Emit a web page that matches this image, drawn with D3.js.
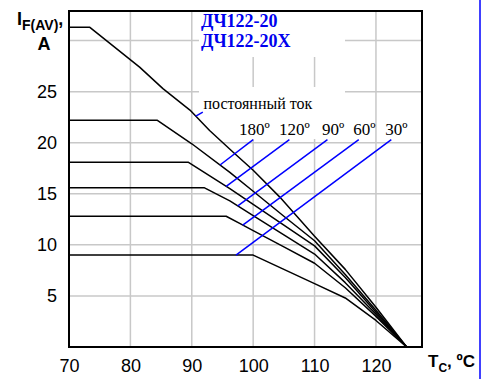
<!DOCTYPE html>
<html>
<head>
<meta charset="utf-8">
<script src="https://cdn.jsdelivr.net/npm/d3@7"></script>
<style>
  html, body { margin: 0; padding: 0; background: #fff; }
  svg { display: block; }
</style>
</head>
<body>
<svg id="chart" width="490" height="379"></svg>
<script>
// Case temperature ticks (°C) and average forward current ticks (A)
const xTicks = [70, 80, 90, 100, 110, 120];
const yTicks = [5, 10, 15, 20, 25];
const yGrid = [5, 10, 15, 20, 25, 30];

// Derating curves: case temperature Tc (°C) -> I_F(AV) (A)
const tcDC  = [70, 73.4, 81.5, 85.3, 89.7, 92.9, 96.7, 100, 104.3, 110, 115, 120, 125];
const ifDC  = [31.3, 31.3, 27.4, 25.3, 23.2, 21.2, 19.1, 17.3, 14.7, 10.85, 7.6, 3.9, 0];
const tc180 = [70, 84.4, 90, 96.2, 100, 105, 110, 115, 120, 125];
const if180 = [22.2, 22.2, 19.9, 17.1, 15.25, 12.8, 10.4, 7.1, 3.6, 0];
const tc120 = [70, 89.4, 96.2, 100, 105, 110, 115, 120, 125];
const if120 = [18.1, 18.1, 15.5, 13.96, 11.93, 9.9, 6.8, 3.4, 0];
const tc90  = [70, 92, 96.2, 100, 105, 110, 115, 120, 125];
const if90  = [15.6, 15.6, 14.3, 12.87, 10.98, 9.1, 6.3, 3.2, 0];
const tc60  = [70, 95.6, 97.8, 100, 105, 110, 115, 120, 125];
const if60  = [12.8, 12.8, 12.1, 11.4, 9.8, 8.2, 5.8, 3.0, 0];
const tc30  = [70, 100, 105, 110, 115, 120, 125];
const if30  = [9.0, 9.0, 7.6, 6.2, 4.8, 2.6, 0];

const seriesLabels = ["постоянный ток", "180º", "120º", "90º", "60º", "30º"];
// Where each leader touches its curve (Tc) and where it ends near the label (Tc, A)
const leaderTc    = [90.65, 94.6, 95.6, 97.5, 98.3, 97.2];
const leaderTopTc = [91.8, 100.0, 105.9, 112.1, 117.2, 122.5];
const leaderTopIf = [23.0, 20.3, 20.3, 20.3, 20.3, 20.3];

const titleLines = ["ДЧ122-20", "ДЧ122-20X"];

const svg = d3.select("#chart");
const x = d3.scaleLinear().domain([70, 127.5]).range([69, 422]);
const y = d3.scaleLinear().domain([0, 32.9]).range([347, 11]);

const series = [
  [tcDC, ifDC], [tc180, if180], [tc120, if120],
  [tc90, if90], [tc60, if60], [tc30, if30]
].map(([t, i]) => t.map((v, k) => [v, i[k]]));

function valueAt(pts, t) {
  for (let k = 1; k < pts.length; k++) {
    if (t <= pts[k][0]) {
      const [t0, v0] = pts[k - 1], [t1, v1] = pts[k];
      return v0 + (v1 - v0) * (t - t0) / (t1 - t0);
    }
  }
  return pts[pts.length - 1][1];
}

const [x0, x1] = x.range();
const [yb, yt] = y.range();

// grid
const grid = svg.append("g").attr("stroke", "#c8c8c8").attr("stroke-width", 1.5);
grid.selectAll(".gx").data(xTicks.slice(1)).join("line")
  .attr("x1", d => x(d)).attr("x2", d => x(d)).attr("y1", yt).attr("y2", yb);
grid.selectAll(".gy").data(yGrid).join("line")
  .attr("x1", x0).attr("x2", x1).attr("y1", d => y(d)).attr("y2", d => y(d));

// white panels behind the in-plot texts
svg.append("rect").attr("x", 199).attr("y", yt + 1).attr("width", 146).attr("height", 45).attr("fill", "#fff");
svg.append("rect").attr("x", 199).attr("y", 87).attr("width", 146).attr("height", 52).attr("fill", "#fff");

// curves
const line = d3.line().x(d => x(d[0])).y(d => y(d[1]));
svg.append("g").selectAll("path").data(series).join("path")
  .attr("d", line).attr("fill", "none").attr("stroke", "#000")
  .attr("stroke-width", 1.5).attr("stroke-linejoin", "round");

// leaders
svg.append("g").selectAll("line").data(series).join("line")
  .attr("x1", (d, i) => x(leaderTc[i]))
  .attr("y1", (d, i) => y(valueAt(d, leaderTc[i])))
  .attr("x2", (d, i) => x(leaderTopTc[i]))
  .attr("y2", (d, i) => y(leaderTopIf[i]))
  .attr("stroke", "#0000ff").attr("stroke-width", 1.5);

// frame
svg.append("rect").attr("x", x0).attr("y", yt).attr("width", x1 - x0).attr("height", yb - yt)
  .attr("fill", "none").attr("stroke", "#000").attr("stroke-width", 2);

// axes
const yAxis = svg.append("g").attr("transform", `translate(${x0},0)`)
  .call(d3.axisLeft(y).tickValues(yTicks).tickSize(0).tickPadding(12));
const xAxis = svg.append("g").attr("transform", `translate(0,${yb})`)
  .call(d3.axisBottom(x).tickValues(xTicks).tickSize(0).tickPadding(12));
[yAxis, xAxis].forEach(a => {
  a.select(".domain").remove();
  a.selectAll("text").attr("font-family", "Liberation Sans, Arial, sans-serif")
    .attr("font-size", 18).attr("fill", "#000");
});

// series labels
const serif = "Liberation Serif, Times New Roman, serif";
svg.append("text").attr("x", x(91.9)).attr("y", y(23.3))
  .attr("font-family", serif).attr("font-size", 16).text(seriesLabels[0]);
const labelTc = [97.7, 104.2, 111.2, 116.3, 121.5];
svg.append("g").selectAll("text").data(seriesLabels.slice(1)).join("text")
  .attr("x", (d, i) => x(labelTc[i])).attr("y", y(20.8))
  .attr("font-family", serif).attr("font-size", 17).text(d => d);

// device type
svg.append("g").selectAll("text").data(titleLines).join("text")
  .attr("x", 201).attr("y", (d, i) => 27 + i * 20)
  .attr("font-family", serif).attr("font-weight", "bold").attr("font-size", 18)
  .attr("fill", "#0000ee").text(d => d);

// axis titles
const sans = "Liberation Sans, Arial, sans-serif";
const yt1 = svg.append("text").attr("x", 17).attr("y", 25)
  .attr("font-family", sans).attr("font-weight", "bold").attr("font-size", 18);
yt1.append("tspan").text("I");
yt1.append("tspan").attr("dy", 5).attr("font-size", 14).text("F(AV)");
yt1.append("tspan").attr("dy", -5).text(",");
svg.append("text").attr("x", 44).attr("y", 50).attr("text-anchor", "middle")
  .attr("font-family", sans).attr("font-weight", "bold").attr("font-size", 18).text("A");

const xt = svg.append("text").attr("x", 428).attr("y", 367)
  .attr("font-family", sans).attr("font-weight", "bold").attr("font-size", 17);
xt.append("tspan").text("T");
xt.append("tspan").attr("dy", 5).attr("font-size", 12).text("C");
xt.append("tspan").attr("dy", -5).text(", ºC");

// right margin rule
svg.append("line").attr("x1", 480).attr("x2", 480).attr("y1", 0).attr("y2", 379)
  .attr("stroke", "#0000ff").attr("stroke-width", 1.5);
</script>
</body>
</html>
